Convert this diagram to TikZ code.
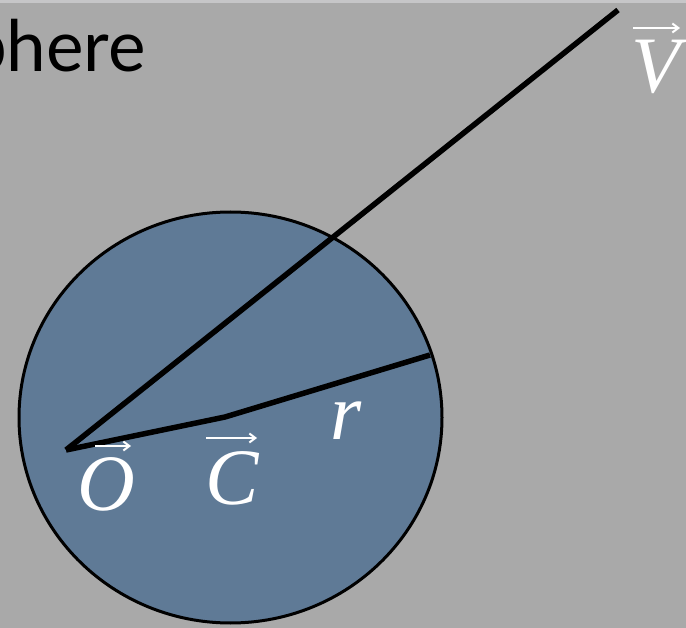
\documentclass[tikz,border=0pt]{standalone}
\usepackage{fontspec}
\setmainfont{Liberation Serif}
\newfontfamily\labfont{Liberation Serif}
\newfontfamily\titlefont{Lato}
\usetikzlibrary{arrows.meta}
\definecolor{bgc}{HTML}{A9A9A9}
\definecolor{stripc}{HTML}{C6C6C8}
\definecolor{ballc}{HTML}{5F7A96}
\tikzset{
  lbl/.style={text=white, font=\labfont\itshape\fontsize{80}{82}\selectfont, inner sep=0pt, anchor=base},
  vecarrow/.style={draw=white, line width=2pt, -{Straight Barb[length=6pt,width=9pt]}},
  ray/.style={draw=black, line width=5.5pt, line join=miter},
}
\begin{document}
\begin{tikzpicture}[x=1pt,y=-1pt]
\useasboundingbox (0,0) rectangle (686,628);
\fill[bgc] (0,0) rectangle (686,628);
\fill[stripc] (0,0) rectangle (686,3);
\node[inner sep=0pt, anchor=base east, font=\titlefont\fontsize{71}{73}\selectfont] (title) at (146,72) {phere};
\draw[fill=ballc, line width=3pt] (230.5,417.5) ellipse [x radius=211.5, y radius=205.5];
\coordinate (O) at (66,450);
\coordinate (C) at (225,417);
\coordinate (R) at (430,355);
\coordinate (V) at (618,10);
\draw[ray] (O) -- (V);
\draw[ray] (O) -- (C) -- (R);
\node[lbl] (vlab) at (656,93) {V};
\node[lbl] (olab) at (106,511) {O};
\node[lbl] (clab) at (232,504) {C};
\node[lbl] (rlab) at (346,440) {r};
\draw[vecarrow] (633,28) -- (680,28);
\draw[vecarrow] (95,446) -- (131,446);
\draw[vecarrow] (206,438) -- (257,438);
\end{tikzpicture}
\end{document}
